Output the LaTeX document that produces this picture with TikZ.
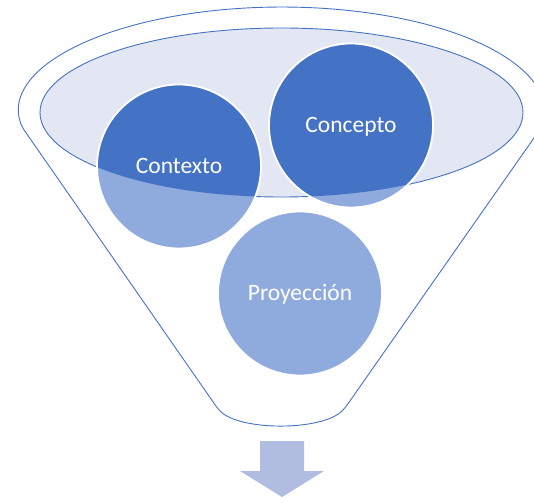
\documentclass[tikz,border=0pt]{standalone}
\usepackage{fontspec}
\setmainfont{Carlito}
\definecolor{azul}{HTML}{4472C4}
\definecolor{azulclaro}{HTML}{8FAADC}
\definecolor{bocacol}{HTML}{E2E7F3}
\definecolor{flechacol}{HTML}{B1BDE0}

\tikzset{
  embudo/.style = {draw=azul, line width=0.9pt, rounded corners=4pt},
  boca/.style   = {fill=bocacol, draw=azul, line width=0.9pt},
  bola/.style   = {circle, minimum size=164pt, inner sep=0pt,
                   fill=azulclaro, draw=white, line width=1.8pt,
                   text=white, font=\fontsize{23.5}{28}\selectfont,
                   text height=14pt, text depth=0pt,
                   path picture={\fill[azul] (centro) ellipse [x radius=241.5pt, y radius=84.5pt];}},
  flecha/.style = {fill=flechacol}
}

\begin{document}
\begin{tikzpicture}[x=1pt, y=-1pt]
\useasboundingbox (0,0) rectangle (534,502);
\clip (0,0) rectangle (534,502);

% embudo
\draw[embudo] (22,127) arc[start angle=171.8, end angle=368.2, x radius=262.5, y radius=105]
   -- (345,408) .. controls (322,431) and (241,431) .. (218,409) -- cycle;
\coordinate (centro) at (281.5,112.5);
\draw[boca] (centro) ellipse [x radius=241.5, y radius=84.5];

% bolas
\node [bola] (contexto)   at (179,166.5) {Contexto};
\node [bola] (concepto)   at (351,125.5) {Concepto};
\node [bola] (proyeccion) at (300,293.5) {Proyección};

% flecha
\fill[flecha] (260,441) -- (304,441) -- (304,471) -- (324,471) -- (282,497)
   -- (240,471) -- (260,471) -- cycle;
\end{tikzpicture}
\end{document}
